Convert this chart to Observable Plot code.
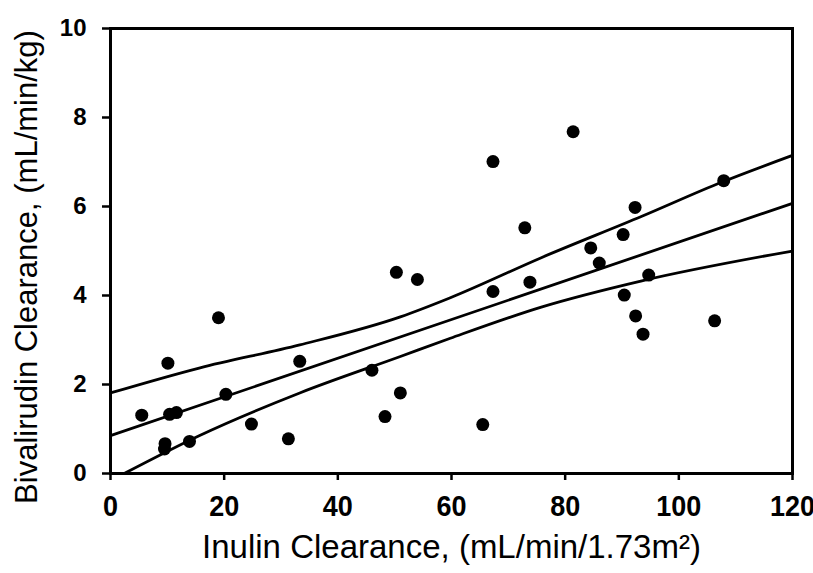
<!DOCTYPE html>
<html>
<head>
<meta charset="utf-8">
<script src="https://cdn.jsdelivr.net/npm/d3@7"></script>
<script src="https://cdn.jsdelivr.net/npm/@observablehq/plot@0.6"></script>
<style>
  html, body { margin: 0; padding: 0; background: #fff; }
  #chart svg { display: block; }
</style>
</head>
<body>
<div id="chart"></div>
<script>
// Observed points (inulin clearance vs bivalirudin clearance)
const inulin = [5.5, 10.1, 10.4, 11.6, 9.5, 9.6, 13.9, 19.0, 20.3, 24.8, 31.3, 33.3, 46.0, 48.3, 50.3, 51.0, 54.0,
                65.5, 67.3, 67.3, 72.9, 73.8, 81.4, 84.5, 86.0, 90.2, 90.4, 92.3, 92.4, 93.7, 94.7, 106.3, 107.9];
const bivalirudin = [1.31, 2.48, 1.33, 1.37, 0.55, 0.67, 0.72, 3.50, 1.78, 1.11, 0.78, 2.52, 2.32, 1.28, 4.52, 1.81, 4.36,
                     1.10, 7.01, 4.09, 5.52, 4.30, 7.68, 5.07, 4.73, 5.37, 4.01, 5.98, 3.54, 3.13, 4.46, 3.43, 6.58];

// Regression line and confidence band curves
const fitX = [0, 120];
const fitY = [0.85, 6.07];
const upperX = [0, 15.6, 33.3, 51.0, 59.8, 75.8, 93.5, 107.6, 120];
const upperY = [1.81, 2.37, 2.89, 3.52, 3.95, 4.85, 5.78, 6.55, 7.15];
const lowerX = [2.4, 15.6, 33.3, 51.0, 59.8, 75.8, 93.5, 120];
const lowerY = [0.0, 0.85, 1.81, 2.63, 3.04, 3.74, 4.33, 5.0];

const xTicks = [0, 20, 40, 60, 80, 100, 120];
const yTicks = [0, 2, 4, 6, 8, 10];
const xTitle = "Inulin Clearance, (mL/min/1.73m\u00B2)";
const yTitle = "Bivalirudin Clearance, (mL/min/kg)";

const pts = inulin.map((x, i) => ({x, y: bivalirudin[i]}));
const fit = fitX.map((x, i) => ({x, y: fitY[i]}));
const upper = upperX.map((x, i) => ({x, y: upperY[i]}));
const lower = lowerX.map((x, i) => ({x, y: lowerY[i]}));

const chart = Plot.plot({
  width: 813,
  height: 573,
  marginLeft: 110,
  marginRight: 21,
  marginTop: 28,
  marginBottom: 100,
  style: {fontFamily: "'Liberation Sans', Arial, sans-serif", color: "#000", background: "#fff"},
  x: {domain: [0, 120]},
  y: {domain: [0, 10]},
  marks: [
    Plot.frame({stroke: "#000", strokeWidth: 3}),
    Plot.axisX({ticks: xTicks, tickSize: 7, strokeWidth: 2.5, tickPadding: 14, fontSize: 30, fontWeight: "bold",
                label: null, tickFormat: d => String(d)}),
    Plot.axisY({ticks: yTicks, tickSize: 8, strokeWidth: 2.5, tickPadding: 16, fontSize: 24, fontWeight: "bold",
                label: null, tickFormat: d => String(d)}),
    Plot.line(upper, {x: "x", y: "y", curve: "monotone-x", stroke: "#000", strokeWidth: 2.8}),
    Plot.line(fit, {x: "x", y: "y", stroke: "#000", strokeWidth: 2.8}),
    Plot.line(lower, {x: "x", y: "y", curve: "monotone-x", stroke: "#000", strokeWidth: 2.8}),
    Plot.dot(pts, {x: "x", y: "y", r: 6.5, fill: "#000", stroke: "none"}),
    Plot.text([xTitle], {text: d => d, frameAnchor: "bottom", dy: 84, fontSize: 33, fill: "#000"}),
    Plot.text([yTitle], {text: d => d, frameAnchor: "left", textAnchor: "middle", dx: -83, dy: 16, rotate: -90,
                         fontSize: 31, fill: "#000"})
  ]
});
document.getElementById("chart").appendChild(chart);

// Slightly condensed look for the x tick labels, as in the original
d3.select(chart).selectAll("g[aria-label='x-axis tick label'] text").each(function () {
  const t = this.getAttribute("transform") || "";
  this.setAttribute("transform", t + " scale(0.9,1)");
});
</script>
</body>
</html>
